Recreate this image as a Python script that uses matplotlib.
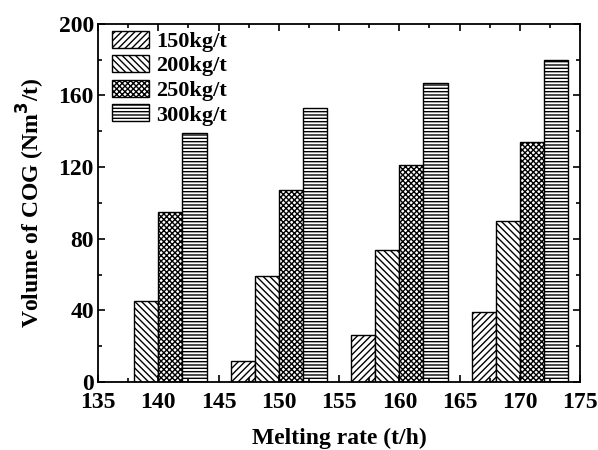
import matplotlib
matplotlib.use("Agg")
import matplotlib.pyplot as plt
import numpy as np

plt.rcParams['font.family'] = ['Liberation Serif', 'DejaVu Serif']
plt.rcParams['font.weight'] = 'bold'
plt.rcParams['hatch.linewidth'] = 1.0

rates = [140, 150, 160, 170]
series_labels = ['150kg/t', '200kg/t', '250kg/t', '300kg/t']
v150 = [0, 12, 26, 39]
v200 = [45, 59, 74, 90]
v250 = [95, 107, 121, 134]
v300 = [139, 153, 167, 180]
values = [v150, v200, v250, v300]
hatches = ['/////', '\\\\\\\\\\', 'xxxxxx', '-----']
offsets = [-3, -1, 1, 3]

fig = plt.figure(figsize=(5.98, 4.5), dpi=100)
ax = fig.add_axes([0.164, 0.151, 0.806, 0.796])

x = np.array(rates, dtype=float)
for vals, lab, h, off in zip(values, series_labels, hatches, offsets):
    vals = np.array(vals, dtype=float)
    ax.bar(x + off, vals, width=2, facecolor='white', edgecolor='black',
           hatch=h, linewidth=1.0, label=lab)

ax.set_xlim(135, 175)
ax.set_ylim(0, 200)
ax.set_xticks(np.arange(135, 176, 5))
ax.set_xticks(np.arange(135, 176, 2.5), minor=True)
ax.set_yticks(np.arange(0, 201, 40))
ax.set_yticks(np.arange(0, 201, 20), minor=True)
ax.tick_params(which='both', direction='in', top=True, right=True, labelsize=17, width=1.2)
ax.tick_params(which='major', length=5)
ax.tick_params(which='minor', length=3)
ax.tick_params(axis='x', pad=7)
ax.tick_params(axis='y', pad=3)
for lbl in ax.get_xticklabels() + ax.get_yticklabels():
    lbl.set_fontweight('bold')
for s in ax.spines.values():
    s.set_linewidth(1.3)

ax.set_xlabel('Melting rate (t/h)', fontsize=17, fontweight='bold', labelpad=11)
ax.set_ylabel('Volume of COG (Nm$^\\mathbf{3}$/t)', fontsize=17, fontweight='bold', labelpad=8)

leg = ax.legend(loc='upper left', bbox_to_anchor=(0.005, 1.012), frameon=False,
                prop={'size': 16, 'weight': 'bold'},
                handlelength=1.7, handleheight=0.8, handletextpad=0.3,
                labelspacing=0.15, borderaxespad=0.2, borderpad=0.3)

fig.savefig('out.png', dpi=100)
